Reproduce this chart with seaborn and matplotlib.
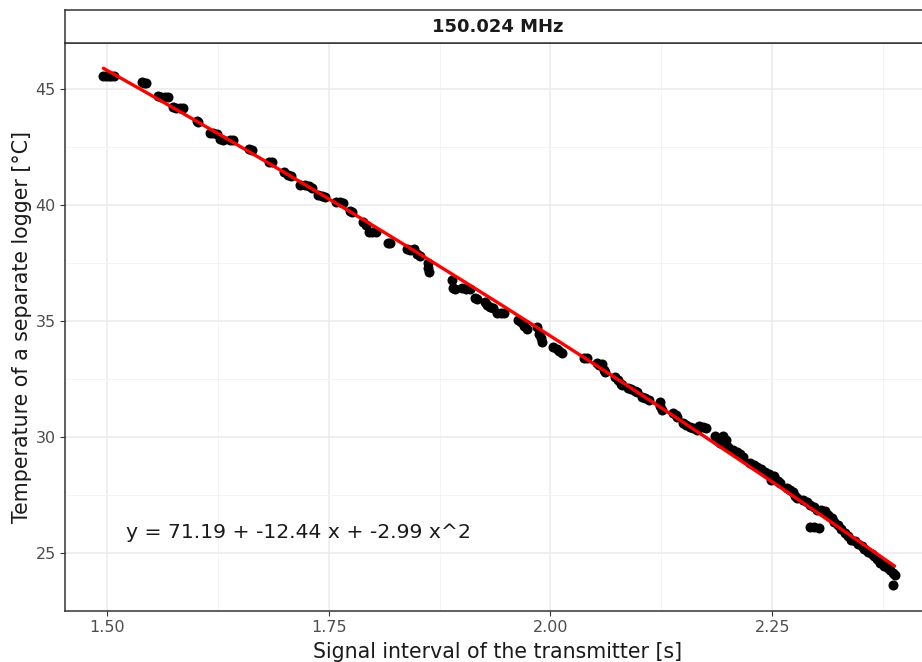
import numpy as np
import pandas as pd
import matplotlib
matplotlib.use("Agg")
import matplotlib.pyplot as plt
import seaborn as sns
from matplotlib.ticker import FixedLocator

# Calibration measurements: signal interval (s) vs logger temperature (°C)
interval_s = [
    1.496, 1.499, 1.502, 1.505, 1.508,
    1.539, 1.542, 1.544,
    1.557, 1.561, 1.565, 1.569,
    1.574, 1.578, 1.582, 1.586,
    1.601, 1.603,
    1.616, 1.620, 1.624, 1.628, 1.631,
    1.639, 1.642,
    1.660, 1.664,
    1.683, 1.686,
    1.700, 1.704, 1.707,
    1.718, 1.723, 1.728, 1.731,
    1.738, 1.742, 1.746,
    1.758, 1.763, 1.766,
    1.774, 1.776,
    1.789, 1.792, 1.795, 1.799, 1.803,
    1.817, 1.819,
    1.838, 1.842, 1.846, 1.850, 1.853,
    1.862, 1.862, 1.863,
    1.889, 1.890, 1.892,
    1.900, 1.905, 1.909,
    1.915, 1.917,
    1.926, 1.929, 1.932, 1.935,
    1.940, 1.944, 1.948,
    1.963, 1.967, 1.970, 1.973,
    1.985, 1.987, 1.989, 1.991,
    2.003, 2.007, 2.010, 2.013,
    2.038, 2.041,
    2.052, 2.055, 2.058, 2.060, 2.062,
    2.073, 2.076, 2.079, 2.081,
    2.087, 2.091, 2.095, 2.098,
    2.103, 2.107, 2.111,
    2.123, 2.124, 2.126,
    2.138, 2.141, 2.143,
    2.149, 2.153, 2.157, 2.161, 2.165,
    2.168, 2.172, 2.175,
    2.185, 2.188, 2.191, 2.195, 2.198, 2.200,
    2.206, 2.210, 2.214, 2.217,
    2.225, 2.229, 2.233, 2.237,
    2.242, 2.246, 2.249, 2.252, 2.256, 2.259,
    2.267, 2.270, 2.273, 2.276, 2.278,
    2.285, 2.289, 2.293, 2.297, 2.300,
    2.293, 2.297, 2.303,
    2.305, 2.309, 2.313, 2.317,
    2.320, 2.324, 2.328, 2.332, 2.335,
    2.339, 2.343, 2.347, 2.351,
    2.354, 2.358, 2.362, 2.365, 2.368,
    2.372, 2.376, 2.380, 2.383, 2.386, 2.388,
    2.386,
]
temperature_c = [
    45.55, 45.56, 45.55, 45.54, 45.56,
    45.28, 45.26, 45.27,
    44.68, 44.66, 44.67, 44.66,
    44.22, 44.20, 44.18, 44.20,
    43.60, 43.57,
    43.10, 43.08, 43.06, 42.85, 42.80,
    42.82, 42.80,
    42.40, 42.38,
    41.85, 41.83,
    41.40, 41.30, 41.25,
    40.88, 40.85, 40.80, 40.74,
    40.45, 40.40, 40.33,
    40.14, 40.12, 40.10,
    39.72, 39.68,
    39.28, 39.15, 38.85, 38.85, 38.85,
    38.38, 38.36,
    38.12, 38.08, 38.10, 37.88, 37.82,
    37.50, 37.30, 37.10,
    36.75, 36.40, 36.36,
    36.40, 36.38, 36.36,
    36.00, 35.96,
    35.82, 35.70, 35.62, 35.58,
    35.36, 35.34, 35.35,
    35.05, 34.95, 34.80, 34.65,
    34.72, 34.45, 34.25, 34.10,
    33.88, 33.80, 33.70, 33.64,
    33.42, 33.40,
    33.18, 33.10, 33.15, 32.90, 32.78,
    32.58, 32.45, 32.30, 32.24,
    32.12, 32.05, 31.98, 31.95,
    31.74, 31.66, 31.60,
    31.52, 31.35, 31.18,
    31.05, 30.95, 30.86,
    30.62, 30.52, 30.45, 30.40, 30.32,
    30.48, 30.42, 30.38,
    30.05, 29.95, 29.75, 30.05, 29.85, 29.55,
    29.42, 29.35, 29.25, 29.15,
    28.88, 28.80, 28.72, 28.62,
    28.48, 28.40, 28.15, 28.30, 28.12, 28.02,
    27.82, 27.70, 27.62, 27.45, 27.38,
    27.30, 27.20, 27.05, 26.98, 26.86,
    26.10, 26.12, 26.08,
    26.86, 26.80, 26.62, 26.52,
    26.35, 26.20, 26.02, 25.88, 25.75,
    25.58, 25.50, 25.40, 25.28,
    25.18, 25.05, 24.95, 24.85, 24.72,
    24.58, 24.45, 24.35, 24.25, 24.15, 24.05,
    23.62,
]

# Quadratic calibration fit: intercept, linear, quadratic terms
fit_coef = [71.19, -12.44, -2.99]
channel = "150.024 MHz"

x_major = [1.50, 1.75, 2.00, 2.25]
x_minor = [1.625, 1.875, 2.125, 2.375]
y_major = [25, 30, 35, 40, 45]
y_minor = [27.5, 32.5, 37.5, 42.5]

df = pd.DataFrame({"interval": interval_s, "temp": temperature_c})

xs = np.linspace(df["interval"].min(), df["interval"].max(), 200)
ys = fit_coef[0] + fit_coef[1] * xs + fit_coef[2] * xs ** 2
fit_df = pd.DataFrame({"interval": xs, "temp": ys})

sns.set_theme(style="white")
plt.rcParams["font.family"] = ["DejaVu Sans"]

W, H = 922, 662
fig = plt.figure(figsize=(W / 100, H / 100), dpi=100)
fig.patch.set_facecolor("white")

left, right, top, bottom = 65, 931, 43, 611
ax = fig.add_axes([left / W, 1 - bottom / H, (right - left) / W, (bottom - top) / H])
strip = fig.add_axes([left / W, 1 - top / H, (right - left) / W, 33 / H])

ax.set_facecolor("white")
ax.set_xlim(1.4527, 2.429)
ax.set_ylim(22.5, 46.98)

ax.xaxis.set_major_locator(FixedLocator(x_major))
ax.xaxis.set_minor_locator(FixedLocator(x_minor))
ax.yaxis.set_major_locator(FixedLocator(y_major))
ax.yaxis.set_minor_locator(FixedLocator(y_minor))
ax.set_xticklabels([f"{v:.2f}" for v in x_major])
ax.set_yticklabels([str(v) for v in y_major])

ax.grid(True, which="major", color="#EBEBEB", linewidth=1.1, zorder=0)
ax.grid(True, which="minor", color="#F3F3F3", linewidth=0.6, zorder=0)
ax.set_axisbelow(True)

sns.scatterplot(data=df, x="interval", y="temp", color="black", s=52,
                linewidth=0, ax=ax, zorder=3)
sns.lineplot(data=fit_df, x="interval", y="temp", color="red", linewidth=2.4,
             ax=ax, zorder=4)

label = f"y = {fit_coef[0]:.2f} + {fit_coef[1]:.2f} x + {fit_coef[2]:.2f} x^2"
ax.text(1.5214, 25.9, label, ha="left", va="center", fontsize=14.7, color="#1a1a1a")

for side in ["left", "bottom", "right", "top"]:
    ax.spines[side].set_color("#333333")
    ax.spines[side].set_linewidth(1.1)

ax.tick_params(axis="both", which="major", length=3.5, width=0.8, color="#333333",
               labelcolor="#4D4D4D", labelsize=11.5, direction="out", pad=3,
               bottom=True, left=True)
ax.tick_params(axis="both", which="minor", length=0)

ax.set_xlabel("Signal interval of the transmitter [s]", fontsize=14.8, color="#1a1a1a",
              labelpad=5)
ax.set_ylabel("Temperature of a separate logger [°C]", fontsize=14.8, color="#1a1a1a",
              labelpad=3)

strip.set_facecolor("white")
strip.set_xticks([])
strip.set_yticks([])
for side in strip.spines:
    strip.spines[side].set_color("#333333")
    strip.spines[side].set_linewidth(1.1)
strip.text(0.5, 0.5, channel, transform=strip.transAxes, ha="center", va="center",
           fontsize=13, fontweight="bold", color="#1a1a1a")

fig.savefig("out.png", dpi=100, facecolor="white")
